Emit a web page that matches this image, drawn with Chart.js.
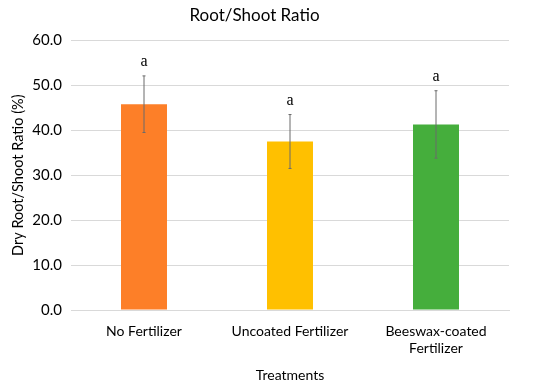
<!DOCTYPE html>
<html>
<head>
<meta charset="utf-8">
<script src="https://cdn.jsdelivr.net/npm/chart.js@4.4.1/dist/chart.umd.min.js"></script>
<style>
  html, body { margin: 0; padding: 0; background: #fff; }
  #wrap { width: 550px; height: 388px; }
</style>
</head>
<body>
<div id="wrap"><canvas id="graficaRatio" width="550" height="388"></canvas></div>
<script>
// datos
const treatments = ['No Fertilizer', 'Uncoated Fertilizer', ['Beeswax-coated', 'Fertilizer']];
const ratioMeans = [45.8, 37.5, 41.3];
const ratioErrors = [6.3, 6.0, 7.5];
const sigLetters = ['a', 'a', 'a'];
const barColors = ['#FD7F28', '#FFC000', '#45AE3C'];

Chart.defaults.font.family = 'Lato, "Open Sans", sans-serif';
Chart.defaults.color = '#000';

// barras de error + letras de significancia
const errorBars = {
  id: 'errorBars',
  afterDatasetsDraw(chart) {
    const ctx = chart.ctx;
    const meta = chart.getDatasetMeta(0);
    const y = chart.scales.y;
    ctx.save();
    meta.data.forEach((bar, i) => {
      const x = bar.x;
      const top = y.getPixelForValue(ratioMeans[i] + ratioErrors[i]);
      const bot = y.getPixelForValue(ratioMeans[i] - ratioErrors[i]);
      ctx.strokeStyle = '#6b6b6b';
      ctx.lineWidth = 1;
      ctx.beginPath();
      ctx.moveTo(x, top); ctx.lineTo(x, bot);
      ctx.moveTo(x - 1.5, top); ctx.lineTo(x + 1.5, top);
      ctx.moveTo(x - 1.5, bot); ctx.lineTo(x + 1.5, bot);
      ctx.stroke();
      ctx.fillStyle = '#000';
      ctx.font = '16px "Liberation Serif", serif';
      ctx.textAlign = 'center';
      ctx.textBaseline = 'alphabetic';
      ctx.fillText(sigLetters[i], x, top - 10);
    });
    ctx.restore();
  }
};

document.addEventListener('DOMContentLoaded', () => {
  const ctx = document.getElementById('graficaRatio').getContext('2d');
  new Chart(ctx, {
    type: 'bar',
    data: {
      labels: treatments,
      datasets: [{
        label: 'Root/Shoot Ratio',
        data: ratioMeans,
        backgroundColor: barColors,
        categoryPercentage: 1.0,
        barPercentage: 0.315
      }]
    },
    options: {
      responsive: false,
      animation: false,
      layout: { padding: { top: 0, right: 41, left: 0, bottom: 0 } },
      plugins: {
        legend: { display: false },
        tooltip: { enabled: false },
        title: {
          display: true,
          text: 'Root/Shoot Ratio',
          font: { size: 17, weight: 'normal' },
          color: '#000',
          padding: { top: 5, bottom: 15 }
        }
      },
      scales: {
        x: {
          grid: { display: false },
          border: { color: '#d9d9d9' },
          ticks: { font: { size: 14 }, color: '#000', padding: 5, maxRotation: 0 },
          title: { display: true, text: 'Treatments', font: { size: 14 }, color: '#000', padding: { top: 2, bottom: 4 } },
          afterFit(scale) { scale.height = 78; }
        },
        y: {
          min: 0,
          max: 60,
          ticks: {
            stepSize: 10,
            font: { size: 15 },
            color: '#000',
            padding: 9,
            callback: v => v.toFixed(1)
          },
          grid: { color: '#d9d9d9', drawTicks: false },
          border: { display: false },
          title: { display: true, text: 'Dry Root/Shoot Ratio (%)', font: { size: 14.5 }, color: '#000', padding: { top: 10, bottom: 0 } },
          afterFit(scale) { scale.width = 71; }
        }
      }
    },
    plugins: [errorBars]
  });
});
</script>
</body>
</html>
